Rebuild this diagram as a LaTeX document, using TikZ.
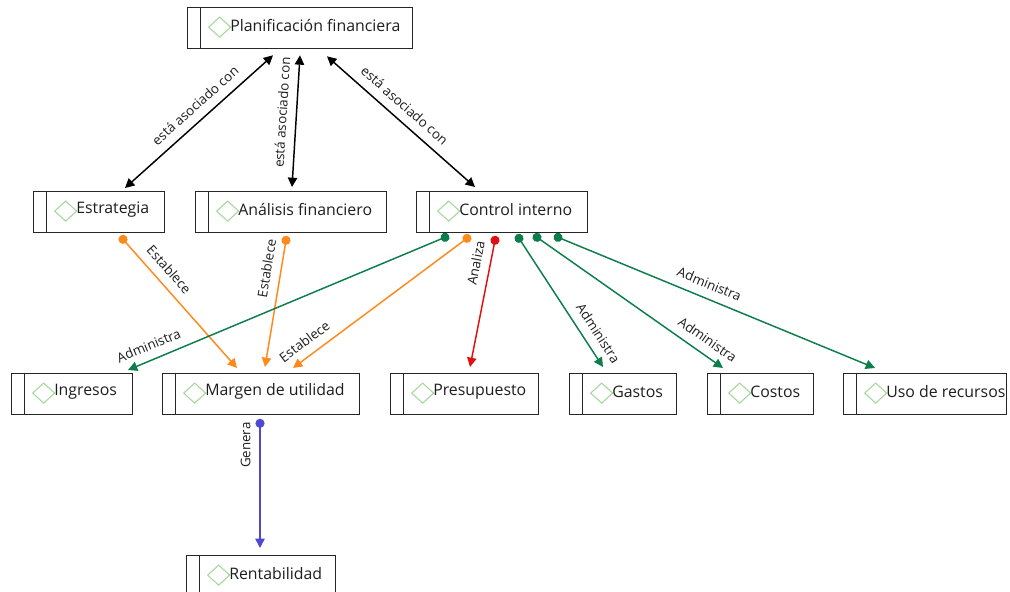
\documentclass[tikz,border=0pt]{standalone}
\usepackage{fontspec}
\setmainfont{Open Sans}
\usetikzlibrary{arrows.meta,calc}
\definecolor{txt}{HTML}{1E1E1E}
\definecolor{boxc}{HTML}{262626}
\definecolor{diac}{HTML}{A6D89B}
\definecolor{orc}{HTML}{FF8A1C}
\definecolor{grc}{HTML}{0E7D4C}
\definecolor{rdc}{HTML}{E01010}
\definecolor{blc}{HTML}{5048D0}
\begin{document}
\begin{tikzpicture}[x=0.75pt,y=-0.75pt,
  box/.style={draw=boxc, line width=1pt, rectangle, minimum height=30.75pt, inner sep=0pt, anchor=north west,
    path picture={
      \draw[boxc, line width=1pt] ([xshift=9.75pt]path picture bounding box.north west) -- ([xshift=9.75pt]path picture bounding box.south west);
      \draw[diac, line width=0.8pt] ([xshift=15.75pt,yshift=0.8pt]path picture bounding box.west) -- ++(8.25pt,7.5pt) -- ++(8.25pt,-7.5pt) -- ++(-8.25pt,-7.5pt) -- cycle;
    }},
  ntext/.style={anchor=west, inner sep=0pt, text=txt, font=\fontsize{11.9}{13}\selectfont},
  lbl/.style={font=\fontsize{10}{11}\selectfont, text=txt, inner sep=1.5pt},
  blk/.style={draw=black, line width=1.1pt, {Triangle[length=7pt,width=7pt]}-{Triangle[length=7pt,width=7pt]}},
  cedge/.style={draw=#1, line width=1.1pt, {Circle[length=6.8pt]}-{Triangle[length=7pt,width=7pt]}, shorten <=-3.4pt},
]
\clip (0,0) rectangle (1010,592);
\fill[white] (0,0) rectangle (1010,592);

% boxes
\node[box, minimum width=168.75pt] (pf) at (187,7) {};
\node[ntext] (pf-t) at ([xshift=32.25pt,yshift=1.8pt]pf.west) {Planificación financiera};
\node[box, minimum width=98.25pt] (est) at (33,191) {};
\node[ntext] (est-t) at ([xshift=32.25pt,yshift=1.8pt]est.west) {Estrategia};
\node[box, minimum width=143.25pt] (ana) at (195,191) {};
\node[ntext] (ana-t) at ([xshift=32.25pt,yshift=1.8pt]ana.west) {Análisis financiero};
\node[box, minimum width=128.25pt] (ctl) at (416,191) {};
\node[ntext] (ctl-t) at ([xshift=32.25pt,yshift=1.8pt]ctl.west) {Control interno};
\node[box, minimum width=90.75pt] (ing) at (11,373) {};
\node[ntext] (ing-t) at ([xshift=32.25pt,yshift=1.8pt]ing.west) {Ingresos};
\node[box, minimum width=147.75pt] (mar) at (162,373) {};
\node[ntext] (mar-t) at ([xshift=32.25pt,yshift=1.8pt]mar.west) {Margen de utilidad};
\node[box, minimum width=111pt] (pre) at (390,373) {};
\node[ntext] (pre-t) at ([xshift=32.25pt,yshift=1.8pt]pre.west) {Presupuesto};
\node[box, minimum width=80.25pt] (gas) at (569,373) {};
\node[ntext] (gas-t) at ([xshift=32.25pt,yshift=1.8pt]gas.west) {Gastos};
\node[box, minimum width=79.5pt] (cos) at (707,373) {};
\node[ntext] (cos-t) at ([xshift=32.25pt,yshift=1.8pt]cos.west) {Costos};
\node[box, minimum width=122.25pt] (uso) at (843,373) {};
\node[ntext] (uso-t) at ([xshift=32.25pt,yshift=1.8pt]uso.west) {Uso de recursos};
\node[box, minimum width=111.75pt] (ren) at (186,555) {};
\node[ntext] (ren-t) at ([xshift=32.25pt,yshift=1.8pt]ren.west) {Rentabilidad};

% black associations
\draw[blk] ([shift={(86,6)}]pf.south west) -- ([shift={(92,-3)}]est.north west)
  node[lbl, pos=0.46, above=5pt, sloped] {está asociado con};
\draw[blk] ([shift={(113,6)}]pf.south west) -- ([shift={(97,-4)}]ana.north west)
  node[lbl, pos=0.44, above=5pt, sloped] {está asociado con};
\draw[blk] ([shift={(140,7)}]pf.south west) -- ([shift={(59,-4)}]ctl.north west)
  node[lbl, pos=0.46, above=5pt, sloped] {está asociado con};

% orange
\draw[cedge=orc] ([shift={(90,6)}]est.south west) -- ([shift={(75,-5)}]mar.north west)
  node[lbl, pos=0.31, above=5pt, sloped] {Establece};
\draw[cedge=orc] ([shift={(91,7)}]ana.south west) -- ([shift={(103,-6)}]mar.north west)
  node[lbl, pos=0.24, above=5pt, sloped] {Establece};
\draw[cedge=orc] ([shift={(51,5)}]ctl.south west) -- ([shift={(131,-5)}]mar.north west)
  node[lbl, pos=0.885, above=5pt, sloped] {Establece};

% green
\draw[cedge=grc] ([shift={(29,4)}]ctl.south west) -- ([shift={(117,-3)}]ing.north west)
  node[lbl, pos=0.917, above=5pt, sloped] {Administra};
\draw[cedge=grc] ([shift={(103,5)}]ctl.south west) -- ([shift={(34,-6)}]gas.north west)
  node[lbl, pos=0.8, above=5pt, sloped] {Administra};
\draw[cedge=grc] ([shift={(121,4)}]ctl.south west) -- ([shift={(16,-5)}]cos.north west)
  node[lbl, pos=0.873, above=5pt, sloped] {Administra};
\draw[cedge=grc] ([shift={(142,4)}]ctl.south west) -- ([shift={(32,-5)}]uso.north west)
  node[lbl, pos=0.46, above=5pt, sloped] {Administra};

% red
\draw[cedge=rdc] ([shift={(79,7)}]ctl.south west) -- ([shift={(80,-6)}]pre.north west)
  node[lbl, pos=0.2, above=5pt, sloped] {Analiza};

% blue
\draw[cedge=blc] ([shift={(98,8)}]mar.south west) -- ([shift={(74,-7)}]ren.north west)
  node[lbl, pos=0.175, rotate=90, anchor=south, inner ysep=6.5pt] {Genera};
\end{tikzpicture}
\end{document}
